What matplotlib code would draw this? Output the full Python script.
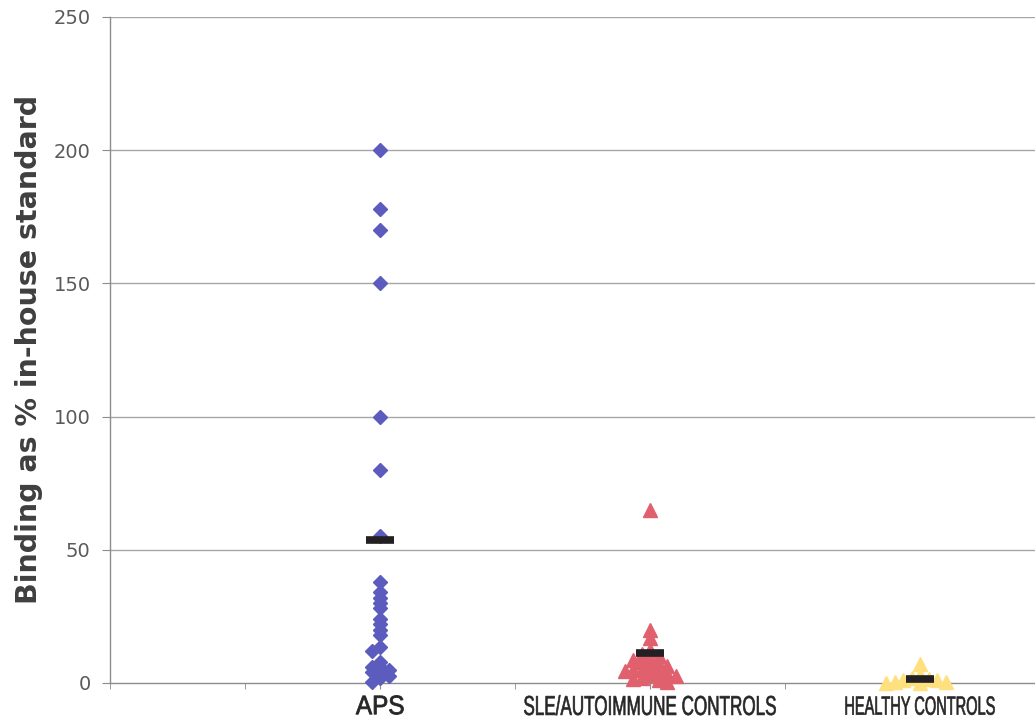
import numpy as np
import matplotlib
matplotlib.use("Agg")
import matplotlib.pyplot as plt
from matplotlib.patheffects import AbstractPathEffect
from matplotlib.transforms import Affine2D

# ---- data ----
categories = ["APS", "SLE/AUTOIMMUNE CONTROLS", "HEALTHY CONTROLS"]
aps_values = [200, 178, 170, 150, 100, 80, 55, 38, 34, 32, 30, 28, 24, 22, 20, 18,
              13.5, 12, 8, 6, 6, 5, 4, 4, 2.5, 2, 0.5]
sle_values = [65, 20, 17, 12.5, 11, 10, 9, 8.5, 8, 7, 6.5, 6, 5, 5, 4.5, 4, 3.5, 3,
              2.5, 2, 1.5, 1, 0.5]
healthy_values = [7, 3, 2, 1.5, 1, 1, 0.5, 0.5, 0, 0]
medians = [53.5, 11.3, 1.5]
yticks = [0, 50, 100, 150, 200, 250]


class Stretch(AbstractPathEffect):
    """Stretch glyph outlines (to mimic a condensed typeface) and thicken them."""

    def __init__(self, sx=1.0, sy=1.0, lw=0.0):
        super().__init__()
        self.sx, self.sy, self.lw = sx, sy, lw

    def draw_path(self, renderer, gc, tpath, affine, rgbFace=None):
        bb = tpath.get_extents(affine)
        cx = 0.5 * (bb.x0 + bb.x1)
        top = bb.y1
        extra = Affine2D().translate(-cx, -top).scale(self.sx, self.sy).translate(cx, top)
        gc0 = renderer.new_gc()
        gc0.copy_properties(gc)
        if self.lw > 0 and rgbFace is not None:
            gc0.set_linewidth(self.lw)
            gc0.set_foreground(rgbFace)
        renderer.draw_path(gc0, tpath, affine + extra, rgbFace)
        gc0.restore()


fig = plt.figure(figsize=(10.35, 7.21), dpi=100)
ax = fig.add_axes([110/1035, 1-683/721, 1-110/1035, (683-17)/721])
ax.set_xlim(0, 6.85)
ax.set_ylim(0, 250)
positions = [2, 4, 6]


def swarm(center, vals, step_px=8.5, thr_px=5.0):
    """deterministic beeswarm offsets computed in pixel space"""
    t = ax.transData
    placed = []
    xs = []
    cand_list = [0]
    for i in range(1, 12):
        cand_list += [-i, i]
    for v in vals:
        base = t.transform((center, v))
        for k in cand_list:
            px = base[0] + k * step_px
            if all(np.hypot(px - qx, base[1] - qy) >= thr_px for qx, qy in placed):
                break
        placed.append((px, base[1]))
        xs.append(t.inverted().transform((px, base[1]))[0])
    return xs


for y in yticks[1:]:
    ax.axhline(y, color="#a6a6a6", lw=1.0, zorder=1)

aps_x = swarm(positions[0], aps_values, thr_px=5.0)
sle_x = swarm(positions[1], sle_values, thr_px=7.0)
hc_x = swarm(positions[2], healthy_values, thr_px=7.0)

ax.plot(aps_x, aps_values, ls="none", marker="D", ms=7.5, color="#5c5cbf",
        mec="#5c5cbf", zorder=3, clip_on=False)
ax.plot(sle_x, sle_values, ls="none", marker="^", ms=9.5, color="#e0606e",
        mec="#e0606e", zorder=3, clip_on=False)
ax.plot(hc_x, healthy_values, ls="none", marker="^", ms=9.5, color="#ffe07e",
        mec="#ffe07e", zorder=3, clip_on=False)

ax.plot(positions, medians, ls="none", marker="_", ms=20, mew=5.5,
        color="#231f22", zorder=4, clip_on=False)

for s in ["top", "right"]:
    ax.spines[s].set_visible(False)
for s in ["left", "bottom"]:
    ax.spines[s].set_color("#8c8c8c")
    ax.spines[s].set_linewidth(1.0)

ax.set_yticks(yticks)
ax.set_yticklabels([str(v) for v in yticks])
ax.tick_params(axis="y", direction="out", length=6, color="#8c8c8c",
               labelcolor="#5a5a5a", labelsize=14, pad=8)
ax.set_xticks(np.arange(0, 7), minor=True)
ax.set_xticks(positions)
ax.set_xticklabels(categories)
ax.tick_params(axis="x", which="both", direction="out", length=4, color="#8c8c8c")
ax.tick_params(axis="x", which="major", pad=5, labelcolor="#262626")
labs = ax.get_xticklabels()
for lab, sz, sy, lw in zip(labs, [17.5, 12.3, 10.5], [1.1, 1.6, 1.8], [0.6, 0.45, 0.45]):
    lab.set_fontfamily(["Liberation Sans", "DejaVu Sans"])
    lab.set_fontsize(sz)
    lab.set_path_effects([Stretch(1.0, sy, lw)])

fig.text(29/1035, 1-349/721, "Binding as % in-house standard", rotation=90,
         ha="center", va="center", fontsize=20.5, fontweight="bold",
         color="#3f3f3f")

fig.savefig("out.png", dpi=100)
